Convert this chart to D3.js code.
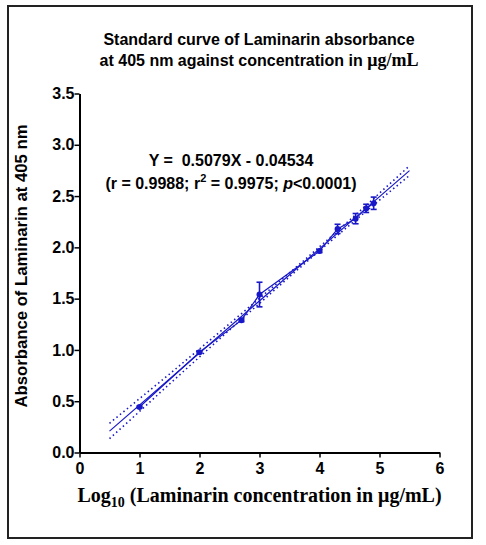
<!DOCTYPE html>
<html>
<head>
<meta charset="utf-8">
<script src="https://cdn.jsdelivr.net/npm/d3@7"></script>
<style>
  body { margin: 0; background: #fff; }
  svg { display: block; }
</style>
</head>
<body>
<div id="chart"></div>
<script>
// log10 of concentration and mean absorbance (with SD)
const logConc = [1, 2, 2.699, 3, 4, 4.301, 4.602, 4.778, 4.903];
const absMean = [0.443, 0.977, 1.29, 1.54, 1.964, 2.18, 2.28, 2.38, 2.43];
const absSD = [0.01, 0.01, 0.015, 0.12, 0.015, 0.045, 0.05, 0.04, 0.06];

// fitted line
const slope = 0.5079;
const intercept = -0.04534;
const fitRange = [0.5, 5.5];

// 95% confidence band
const bandX = [0.5, 1, 1.5, 2, 2.5, 3, 3.5, 3.75, 4, 4.5, 5, 5.5];
const bandUpper = [0.285, 0.525, 0.765, 1.01, 1.255, 1.503, 1.752, 1.877, 2.005, 2.264, 2.528, 2.795];
const bandLower = [0.135, 0.40, 0.668, 0.931, 1.194, 1.454, 1.713, 1.841, 1.967, 2.216, 2.460, 2.701];

const xTicks = [0, 1, 2, 3, 4, 5, 6];
const yTicks = [0, 0.5, 1, 1.5, 2, 2.5, 3, 3.5];

const blue = "#1818c8";
const sans = "'Liberation Sans', Arial, sans-serif";
const serif = "'Liberation Serif', 'Times New Roman', serif";

let svg = d3.select("#chart").append("svg")
  .attr("width", 486)
  .attr("height", 545);

// outer frame
svg.append("rect")
  .attr("x", 8).attr("y", 6)
  .attr("width", 464).attr("height", 532)
  .attr("fill", "none")
  .attr("stroke", "#222")
  .attr("stroke-width", 2);

let x = d3.scaleLinear().domain([0, 6]).range([79.5, 439.5]);
let y = d3.scaleLinear().domain([0, 3.5]).range([452.5, 93.5]);

// axes
let xAxis = svg.append("g")
  .attr("transform", `translate(0, ${y(0)})`)
  .call(d3.axisBottom(x).tickValues(xTicks).tickSize(5).tickSizeOuter(0).tickFormat(d3.format("d")));

let yAxis = svg.append("g")
  .attr("transform", `translate(${x(0)}, 0)`)
  .call(d3.axisLeft(y).tickValues(yTicks).tickSize(5).tickSizeOuter(0).tickFormat(d3.format(".1f")));

[xAxis, yAxis].forEach(g => {
  g.select(".domain").attr("stroke", "#000").attr("stroke-width", 2);
  g.selectAll(".tick line").attr("stroke", "#000").attr("stroke-width", 1.5);
  g.selectAll(".tick text")
    .attr("fill", "#000")
    .style("font-family", sans)
    .style("font-weight", "bold")
    .style("font-size", "16px");
});
xAxis.selectAll(".tick text").attr("dy", "0.9em").attr("y", 7);
yAxis.selectAll(".tick text").attr("x", -5);

// confidence band (dotted)
let bandLine = d3.line().x(d => x(d[0])).y(d => y(d[1])).curve(d3.curveMonotoneX);
[bandUpper, bandLower].forEach(arr => {
  svg.append("path")
    .datum(bandX.map((v, i) => [v, arr[i]]))
    .attr("d", bandLine)
    .attr("fill", "none")
    .attr("stroke", blue)
    .attr("stroke-width", 1.6)
    .attr("stroke-dasharray", "1.5,3");
});

// regression line
svg.append("line")
  .attr("x1", x(fitRange[0])).attr("y1", y(slope * fitRange[0] + intercept))
  .attr("x2", x(fitRange[1])).attr("y2", y(slope * fitRange[1] + intercept))
  .attr("stroke", blue)
  .attr("stroke-width", 1.2);

// line joining the means
let pts = logConc.map((v, i) => [v, absMean[i], absSD[i]]);
svg.append("path")
  .datum(pts)
  .attr("d", d3.line().x(d => x(d[0])).y(d => y(d[1])))
  .attr("fill", "none")
  .attr("stroke", blue)
  .attr("stroke-width", 1.2);

// error bars
let err = svg.append("g").attr("stroke", blue).attr("stroke-width", 1.6);
pts.forEach(d => {
  err.append("line")
    .attr("x1", x(d[0])).attr("x2", x(d[0]))
    .attr("y1", y(d[1] - d[2])).attr("y2", y(d[1] + d[2]));
  [d[1] - d[2], d[1] + d[2]].forEach(v => {
    err.append("line")
      .attr("x1", x(d[0]) - 3).attr("x2", x(d[0]) + 3)
      .attr("y1", y(v)).attr("y2", y(v));
  });
});

// points
svg.selectAll("circle.pt")
  .data(pts)
  .enter()
  .append("circle")
  .attr("class", "pt")
  .attr("cx", d => x(d[0]))
  .attr("cy", d => y(d[1]))
  .attr("r", 3)
  .attr("fill", blue);

// title
let title = svg.append("text")
  .attr("text-anchor", "middle")
  .style("font-family", sans)
  .style("font-weight", "bold")
  .style("font-size", "16px");
title.append("tspan").attr("x", 259).attr("y", 45).text("Standard curve of Laminarin absorbance");
let t2 = title.append("tspan").attr("x", 259).attr("y", 66);
t2.append("tspan").text("at 405 nm against concentration in ");
t2.append("tspan").style("font-family", serif).style("font-size", "18px").text("μg/mL");

// equation
let eq = svg.append("text")
  .attr("text-anchor", "middle")
  .style("font-family", sans)
  .style("font-weight", "bold")
  .style("font-size", "16px")
  .attr("fill", "#000");
eq.append("tspan").attr("x", 231).attr("y", 166).attr("xml:space", "preserve").text("Y =  0.5079X - 0.04534");
let eq2 = eq.append("tspan").attr("x", 231).attr("y", 189);
eq2.append("tspan").text("(r = 0.9988; r");
eq2.append("tspan").attr("dy", -7).style("font-size", "11px").text("2");
eq2.append("tspan").attr("dy", 7).text(" = 0.9975; ");
eq2.append("tspan").style("font-style", "italic").text("p");
eq2.append("tspan").text("<0.0001)");

// x axis label
let xl = svg.append("text")
  .attr("x", 259.5).attr("y", 502)
  .attr("text-anchor", "middle")
  .style("font-family", serif)
  .style("font-weight", "bold")
  .style("font-size", "20px");
xl.append("tspan").text("Log");
xl.append("tspan").attr("dy", 5).style("font-size", "14px").text("10");
xl.append("tspan").attr("dy", -5).text(" (Laminarin concentration in μg/mL)");

// y axis label
svg.append("text")
  .attr("transform", "translate(27, 266) rotate(-90)")
  .attr("text-anchor", "middle")
  .attr("textLength", 283)
  .attr("lengthAdjust", "spacingAndGlyphs")
  .style("font-family", "'Liberation Sans Narrow', 'Liberation Sans', Arial, sans-serif")
  .style("font-weight", "bold")
  .style("font-size", "17px")
  .text("Absorbance of Laminarin at 405 nm");
</script>
</body>
</html>
